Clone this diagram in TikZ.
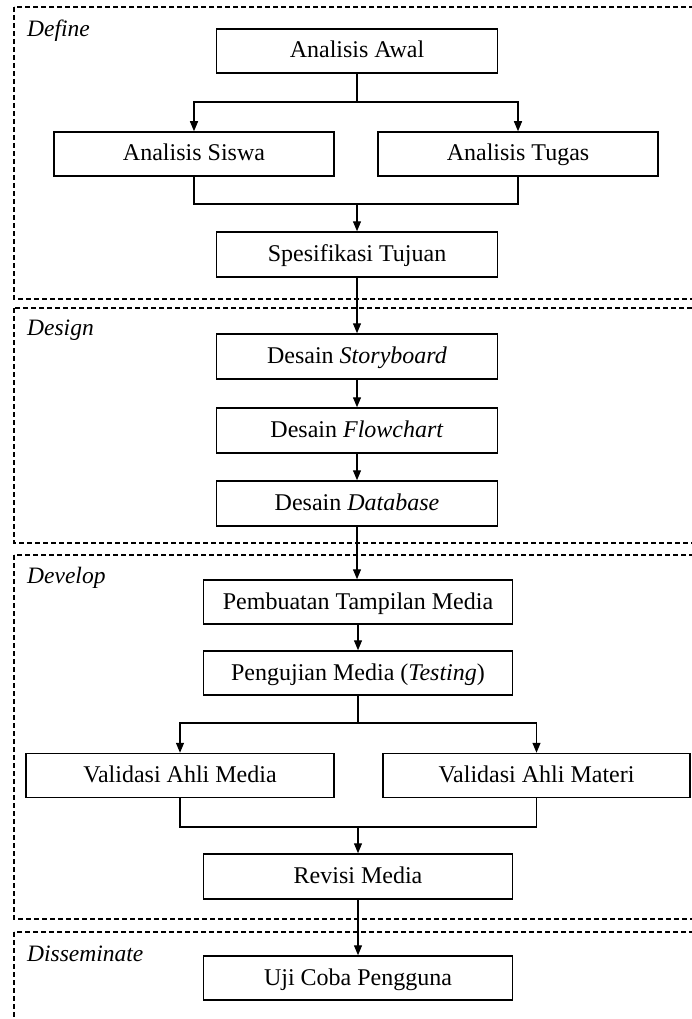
\documentclass[tikz,border=0pt]{standalone}
\usepackage{fontspec}
\setmainfont{Liberation Serif}
\usetikzlibrary{arrows.meta}
\begin{document}
\begin{tikzpicture}[x=1pt,y=-1pt,
  stepbox/.style={draw, line width=1.5pt, minimum height=44pt, inner sep=0pt,
    text height=17pt, text depth=3pt,
    font=\fontsize{24}{28}\selectfont},
  narrowbox/.style={stepbox, minimum width=281pt},
  widebox/.style={stepbox, minimum width=309pt},
  link/.style={line width=1.3pt},
  flow/.style={link, -{Triangle[length=10pt,width=8pt]}},
  phase/.style={draw, line width=1.1pt, dash pattern=on 5pt off 3pt},
  phaselabel/.style={anchor=base west, inner sep=0pt,
    font=\itshape\fontsize{23.5}{28}\selectfont}
]
\useasboundingbox (0,0) rectangle (692,1019);
\clip (0,0) rectangle (692,1019);

% phase frames (open to the right)
\draw[phase] (14,7) rectangle (710,299);
\draw[phase] (14,308) rectangle (710,543);
\draw[phase] (14,555) rectangle (710,919);
\draw[phase] (14,932) rectangle (710,1040);

\node[phaselabel] (lDefine) at (27,37) {Define};
\node[phaselabel] (lDesign) at (27,335) {Design};
\node[phaselabel] (lDevelop) at (27,583) {Develop};
\node[phaselabel] (lDissem) at (27,961) {Disseminate};

% Define
\node[narrowbox] (awal) at (357,51) {Analisis Awal};
\node[stepbox, minimum width=280pt] (siswa) at (194,154) {Analisis Siswa};
\node[stepbox, minimum width=280pt] (tugas) at (518,154) {Analisis Tugas};
\node[narrowbox, minimum height=45pt] (spes) at (357,254.5) {Spesifikasi Tujuan};

% Design
\node[narrowbox, minimum height=45pt] (story) at (357,356.5) {Desain \textit{Storyboard}};
\node[narrowbox, minimum height=45pt] (flowc) at (357,430.5) {Desain \textit{Flowchart}};
\node[narrowbox, minimum height=45pt] (datab) at (357,503.5) {Desain \textit{Database}};

% Develop
\node[widebox] (pemb) at (358,602) {Pembuatan Tampilan Media};
\node[widebox] (peng) at (358,673) {Pengujian Media (\textit{Testing})};
\node[stepbox, minimum width=308pt] (vmedia) at (180,775.5) {Validasi Ahli Media};
\node[stepbox, minimum width=307pt] (vmateri) at (536.5,775.5) {Validasi Ahli Materi};
\node[widebox, minimum height=45pt] (revisi) at (358,876.5) {Revisi Media};

% Disseminate
\node[widebox] (uji) at (358,978) {Uji Coba Pengguna};

% junction points
\coordinate (s1) at (357,102);
\coordinate (m1) at (357,204);
\coordinate (s2) at (358,723);
\coordinate (m2) at (358,827);

% connectors: Define
\draw[link] (awal.south) -- (s1);
\draw[flow] (s1) -| (siswa.north);
\draw[flow] (s1) -| (tugas.north);
\draw[link] (siswa.south) |- (m1) -| (tugas.south);
\draw[flow] (m1) -- (spes.north);
\draw[flow] (spes.south) -- (story.north);

% Design
\draw[flow] (story.south) -- (flowc.north);
\draw[flow] (flowc.south) -- (datab.north);
\draw[flow] (datab.south) -- (datab.south |- pemb.north);

% Develop
\draw[flow] (pemb.south) -- (peng.north);
\draw[link] (peng.south) -- (s2);
\draw[flow] (s2) -| (vmedia.north);
\draw[flow] (s2) -| (vmateri.north);
\draw[link] (vmedia.south) |- (m2) -| (vmateri.south);
\draw[flow] (m2) -- (revisi.north);
\draw[flow] (revisi.south) -- (uji.north);
\end{tikzpicture}
\end{document}
